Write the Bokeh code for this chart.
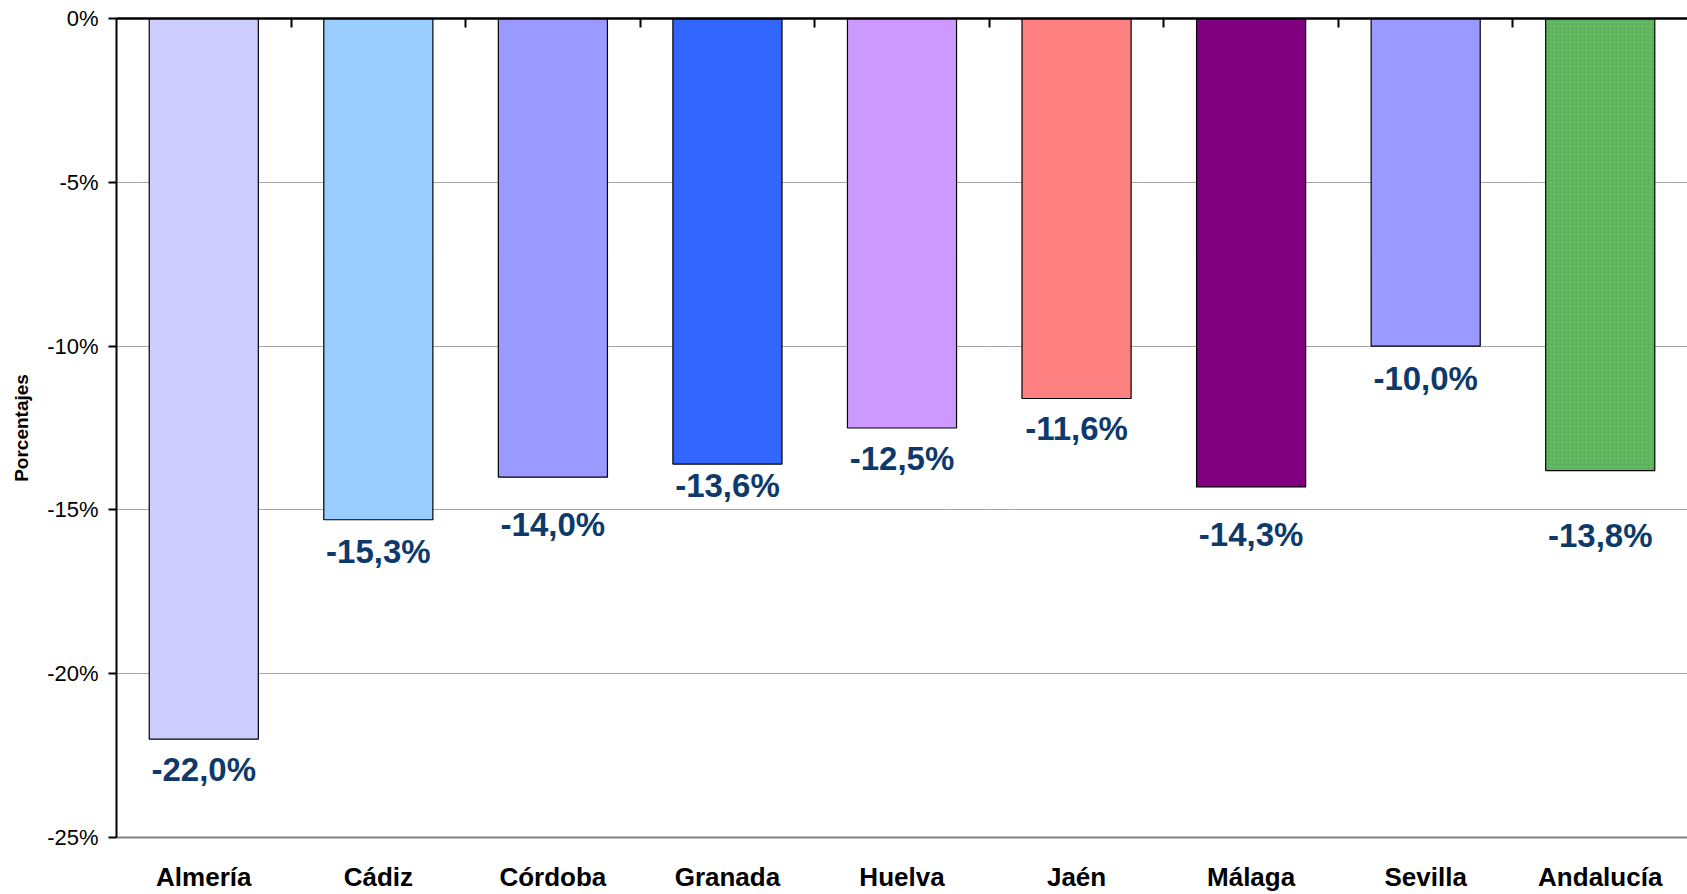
from bokeh.plotting import figure
from bokeh.models import (Range1d, LinearAxis, FixedTicker, ColumnDataSource)
from bokeh.core.properties import value
from bokeh.embed import file_html
from bokeh.resources import INLINE

# ---- data ----
provincias = ["Almería", "Cádiz", "Córdoba", "Granada", "Huelva", "Jaén", "Málaga", "Sevilla", "Andalucía"]
variacion = [-22.0, -15.3, -14.0, -13.6, -12.5, -11.6, -14.3, -10.0, -13.8]
y_ticks = [-25, -20, -15, -10, -5, 0]

# ---- styles ----
colores = ["#CCCCFF", "#99CCFF", "#9999FF", "#3366FF", "#CC99FF", "#FF8080", "#800080", "#9999FF", "#5CB35C"]
hatches = [" ", " ", " ", " ", " ", " ", " ", " ", "."]
label_offsets = [30, 32, 47, 21, 30, 30, 48, 32, 65]  # px below bar end

FONT = "Liberation Sans"
n = len(provincias)
idx = list(range(n))

etiquetas = [f"{v:.1f}".replace(".", ",") + "%" for v in variacion]
src = ColumnDataSource(dict(x=idx, val=variacion, col=colores, hatch=hatches,
                            lab=etiquetas, off=label_offsets))

p = figure(x_range=Range1d(-0.5, n - 0.5), y_range=Range1d(-25, 0),
           width=1687, height=894, output_backend="svg", toolbar_location=None,
           x_axis_location=None,
           min_border_left=116, min_border_right=0, min_border_top=18, min_border_bottom=55)
p.outline_line_color = None
p.background_fill_color = "white"

p.vbar(x="x", top="val", bottom=0, width=0.625, source=src,
       fill_color="col", line_color="black", line_width=1.2,
       hatch_pattern="hatch", hatch_color="#7CC97C", hatch_alpha=0.6, hatch_scale=4, hatch_weight=1)

p.text(x="x", y="val", text="lab", source=src, y_offset="off",
       text_align="center", text_baseline="middle",
       text_font=value(FONT), text_font_size="33px", text_font_style="bold",
       text_color="#0E3A6B")

# y axis
ya = p.yaxis[0]
ya.ticker = FixedTicker(ticks=y_ticks)
ya.major_label_overrides = {t: f"{t}%" for t in y_ticks}
ya.major_label_text_font = FONT
ya.major_label_text_font_size = "22px"
ya.major_label_text_color = "black"
ya.major_label_standoff = 10
ya.major_tick_in = 0
ya.major_tick_out = 8
ya.major_tick_line_width = 2
ya.minor_tick_line_color = None
ya.axis_line_width = 2
ya.axis_line_color = "black"
ya.axis_label = "Porcentajes"
ya.axis_label_text_font = FONT
ya.axis_label_text_font_size = "19px"
ya.axis_label_text_font_style = "bold"
ya.axis_label_text_color = "black"
ya.axis_label_standoff = 12

# bottom axis: category names
bottom = LinearAxis(ticker=FixedTicker(ticks=idx),
                    major_label_overrides={i: name for i, name in enumerate(provincias)},
                    major_tick_line_color=None, minor_tick_line_color=None,
                    axis_line_color="#808080", axis_line_width=2,
                    major_label_text_font=FONT, major_label_text_font_size="26px",
                    major_label_text_font_style="bold", major_label_text_color="black",
                    major_label_standoff=18)
p.add_layout(bottom, "below")

# top axis: zero line with category separators
top = LinearAxis(ticker=FixedTicker(ticks=[i + 0.5 for i in idx[:-1]]),
                 major_tick_in=9, major_tick_out=0, major_tick_line_width=2,
                 minor_tick_line_color=None,
                 major_label_text_font_size="0px", major_label_text_alpha=0,
                 major_label_standoff=0,
                 axis_line_width=2.5, axis_line_color="black")
p.add_layout(top, "above")

# grid
p.xgrid.grid_line_color = None
p.ygrid.ticker = FixedTicker(ticks=[-20, -15, -10, -5])
p.ygrid.grid_line_color = "#4d4d4d"
p.ygrid.grid_line_dash = "1 1"
p.ygrid.grid_line_width = 1

open("out.html", "w").write(file_html(p, INLINE))
